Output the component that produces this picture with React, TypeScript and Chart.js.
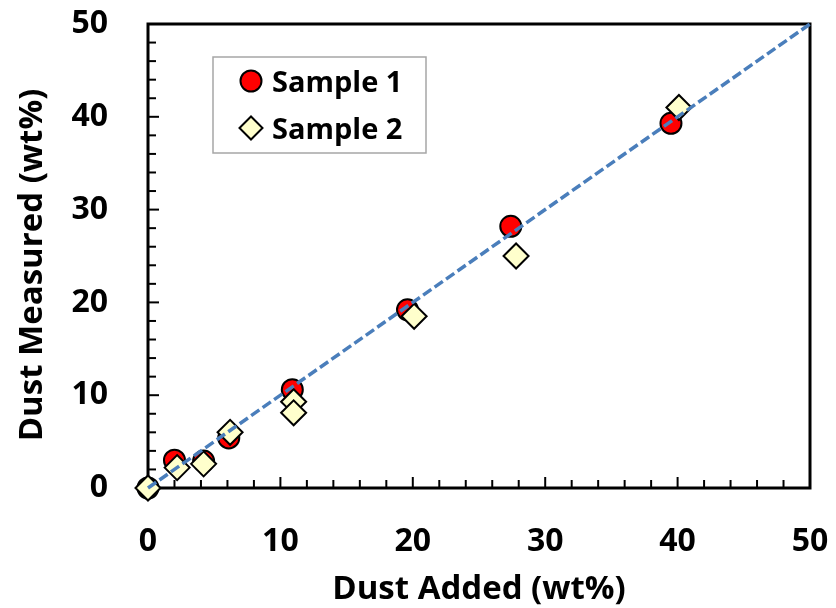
import React, { useEffect, useRef } from "react";
import { Chart, registerables } from "chart.js";

Chart.register(...registerables);

// ---- data ----
const sample1X = [0, 2.0, 4.2, 6.1, 10.9, 19.6, 27.4, 39.5];
const sample1Y = [0, 3.0, 2.9, 5.4, 10.6, 19.2, 28.2, 39.3];
const sample2X = [0, 2.2, 4.2, 6.2, 11.0, 11.0, 20.1, 27.8, 40.1];
const sample2Y = [0, 2.2, 2.6, 6.0, 9.3, 8.1, 18.5, 25.0, 41.0];
const refLineX = [0, 50];
const refLineY = [0, 50];
const axisMin = 0;
const axisMax = 50;
const majorStep = 10;
const minorStep = 2;
const seriesNames = ["Sample 1", "Sample 2"];
const xTitle = "Dust Added (wt%)";
const yTitle = "Dust Measured (wt%)";

const FONT = "'Open Sans'";

function toPoints(xs: number[], ys: number[]) {
  return xs.map((x, i) => ({ x, y: ys[i] }));
}

const framePlugin = {
  id: "frame",
  beforeDatasetsDraw(chart: any) {
    const { ctx, chartArea } = chart;
    const { left, right, top, bottom } = chartArea;
    const xs = chart.scales.x;
    const ys = chart.scales.y;
    ctx.save();
    ctx.strokeStyle = "#000";
    ctx.lineWidth = 2;
    for (let v = axisMin + minorStep; v < axisMax; v += minorStep) {
      const major = Math.abs(v % majorStep) < 1e-9;
      const len = major ? 11 : 8;
      const px = xs.getPixelForValue(v);
      ctx.beginPath();
      ctx.moveTo(px, bottom);
      ctx.lineTo(px, bottom - len);
      ctx.stroke();
      const py = ys.getPixelForValue(v);
      ctx.beginPath();
      ctx.moveTo(left, py);
      ctx.lineTo(left + len, py);
      ctx.stroke();
    }
    ctx.lineWidth = 3;
    ctx.strokeRect(left, top, right - left, bottom - top);
    ctx.restore();
  },
  afterDraw(chart: any) {
    const { ctx, chartArea } = chart;
    ctx.save();
    // axis titles
    ctx.fillStyle = "#000";
    ctx.font = `bold 33px ${FONT}`;
    ctx.textAlign = "center";
    ctx.textBaseline = "alphabetic";
    ctx.fillText(xTitle, (chartArea.left + chartArea.right) / 2, 599);
    ctx.save();
    ctx.translate(42, 265);
    ctx.rotate(-Math.PI / 2);
    ctx.fillText(yTitle, 0, 0);
    ctx.restore();

    // legend
    const bx = 213, by = 57, bw = 213, bh = 96;
    ctx.fillStyle = "#fff";
    ctx.fillRect(bx, by, bw, bh);
    ctx.strokeStyle = "#a6a6a6";
    ctx.lineWidth = 1.5;
    ctx.strokeRect(bx, by, bw, bh);
    const ds = chart.data.datasets;
    const rows = [
      { d: ds[0], y: 81 },
      { d: ds[1], y: 128 },
    ];
    rows.forEach((r, i) => {
      const cx = 251;
      ctx.fillStyle = r.d.backgroundColor;
      ctx.strokeStyle = r.d.borderColor;
      ctx.lineWidth = r.d.borderWidth;
      ctx.beginPath();
      if (r.d.pointStyle === "rectRot") {
        const rr = 11.5;
        ctx.moveTo(cx - rr, r.y);
        ctx.lineTo(cx, r.y - rr);
        ctx.lineTo(cx + rr, r.y);
        ctx.lineTo(cx, r.y + rr);
        ctx.closePath();
      } else {
        ctx.arc(cx, r.y, 10.5, 0, Math.PI * 2);
      }
      ctx.fill();
      ctx.stroke();
      ctx.fillStyle = "#000";
      ctx.font = `bold 29px ${FONT}`;
      ctx.textAlign = "left";
      ctx.textBaseline = "alphabetic";
      ctx.fillText(seriesNames[i], 272, r.y + 11);
    });
    ctx.restore();
  },
};

export default function App() {
  const canvasRef = useRef<HTMLCanvasElement | null>(null);

  useEffect(() => {
    if (!canvasRef.current) return;
    const tickFont = { family: "Open Sans", size: 32, weight: "bold" as const };
    const chart = new Chart(canvasRef.current, {
      type: "scatter",
      data: {
        datasets: [
          {
            label: seriesNames[0],
            data: toPoints(sample1X, sample1Y),
            pointStyle: "circle",
            pointRadius: 10.5,
            backgroundColor: "#ff0000",
            borderColor: "#000000",
            borderWidth: 2,
            clip: false,
            order: 3,
          },
          {
            label: seriesNames[1],
            data: toPoints(sample2X, sample2Y),
            pointStyle: "rectRot",
            pointRadius: 12.5,
            backgroundColor: "#ffffcc",
            borderColor: "#000000",
            borderWidth: 2,
            clip: false,
            order: 2,
          },
          {
            type: "line",
            label: "1:1",
            data: toPoints(refLineX, refLineY),
            borderColor: "#4a7ebb",
            borderWidth: 3.5,
            borderDash: [10, 4],
            pointRadius: 0,
            fill: false,
            showLine: true,
            clip: false,
            order: 1,
          } as any,
        ],
      },
      options: {
        animation: false,
        responsive: true,
        maintainAspectRatio: false,
        layout: { padding: { left: 0, top: 24, right: 26, bottom: 0 } },
        plugins: {
          legend: { display: false },
          tooltip: { enabled: false },
          title: { display: false },
        },
        scales: {
          x: {
            type: "linear",
            min: axisMin,
            max: axisMax,
            grid: { display: true, color: "rgba(0,0,0,0)", drawTicks: true, tickLength: 33 },
            border: { display: false },
            ticks: {
              stepSize: majorStep,
              color: "#000",
              font: tickFont,
              padding: 2,
              maxRotation: 0,
            },
            afterFit: (s: any) => {
              s.height = 120;
            },
          },
          y: {
            type: "linear",
            min: axisMin,
            max: axisMax,
            grid: { display: true, color: "rgba(0,0,0,0)", drawTicks: true, tickLength: 38 },
            border: { display: false },
            ticks: {
              stepSize: majorStep,
              color: "#000",
              font: tickFont,
              padding: 2,
            },
            afterFit: (s: any) => {
              s.width = 148;
            },
          },
        },
      },
      plugins: [framePlugin],
    });
    return () => chart.destroy();
  }, []);

  return (
    <div style={{ position: "fixed", left: 0, top: 0, width: 836, height: 608, background: "#fff" }}>
      <canvas ref={canvasRef} />
    </div>
  );
}
